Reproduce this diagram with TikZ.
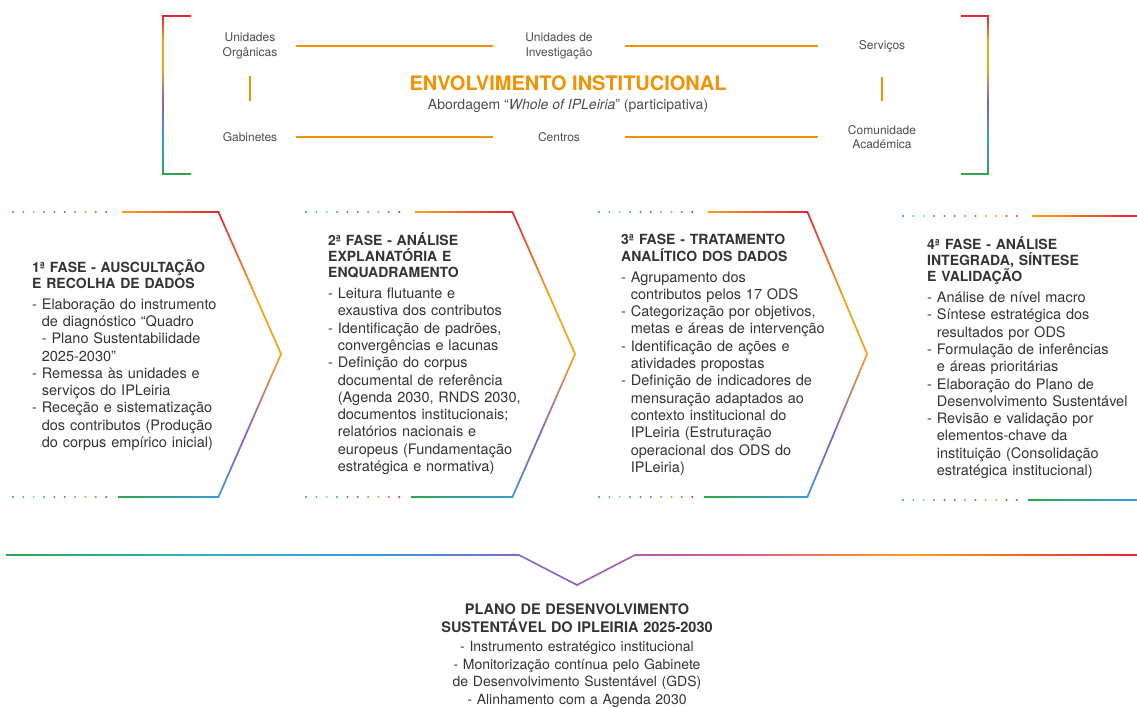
\documentclass[tikz,border=0pt]{standalone}
\usepackage{fontspec}
\setmainfont{TeX Gyre Heros}
\usetikzlibrary{positioning}

\definecolor{ipOrange}{HTML}{F39200}
\definecolor{sdgred}{HTML}{E5243B}
\definecolor{sdgorange}{HTML}{F7A21B}
\definecolor{sdgpurple}{HTML}{8E5CC0}
\definecolor{sdgblue}{HTML}{3A9BDC}
\definecolor{sdgteal}{HTML}{2FB3C0}
\definecolor{sdggreen}{HTML}{2BA84A}
\definecolor{sdgpink}{HTML}{D55A96}
\definecolor{labelgray}{HTML}{4D4D4D}
\definecolor{textgray}{HTML}{333333}

\pgfdeclareverticalshading{chevronfade}{100bp}{color(0bp)=(sdgblue); color(25bp)=(sdgblue); color(36bp)=(sdgpurple); color(50bp)=(sdgorange); color(60bp)=(sdgorange); color(75bp)=(sdgred); color(100bp)=(sdgred)}
\pgfdeclareverticalshading{bracketfade}{100bp}{color(0bp)=(sdggreen); color(25bp)=(sdggreen); color(37bp)=(sdgblue); color(48bp)=(sdgpurple); color(58bp)=(sdgorange); color(67bp)=(sdgorange); color(75bp)=(sdgred); color(100bp)=(sdgred)}
\pgfdeclarehorizontalshading{basefade}{100bp}{color(0bp)=(sdggreen); color(25bp)=(sdggreen); color(33bp)=(sdgteal); color(41bp)=(sdgblue); color(50bp)=(sdgpurple); color(57bp)=(sdgpink); color(65bp)=(sdgorange); color(75bp)=(sdgred); color(100bp)=(sdgred)}

\newcommand{\dotsten}{sdggreen,sdgteal,sdgblue!60,sdgblue,sdgpurple!70!sdgblue,sdgpurple,sdgpink,sdgorange,sdgorange!50!sdgred,sdgred}
\newcommand{\dotstwelve}{sdggreen,sdgteal,sdgblue!60,sdgblue,sdgpurple!60!sdgblue,sdgpurple,sdgpink,sdgred!60!sdgorange,sdgorange,sdgorange,sdgred!80!sdgorange,sdgred}

% list entry with hanging indent
\newcommand{\fitem}[1]{\par\setbox0=\hbox{- }\hangindent=\wd0 \hangafter=1 \noindent\box0 {\let\\\newline #1}\par}

\begin{document}
\begin{tikzpicture}[x=1pt, y=-1pt, node distance=91pt]

  % Define styles
  \tikzstyle{unit} = [inner sep=0pt, align=center, text=labelgray, font=\fontsize{12}{14.5}\selectfont]
  \tikzstyle{fase} = [anchor=west, inner sep=0pt, text width=235pt, align=left, text=textgray, font=\fontsize{14.5}{17.3}\selectfont]
  \tikzstyle{link} = [draw=ipOrange, line width=1.8pt]

  \useasboundingbox (0,0) rectangle (1137,708);

  % Place nodes
  \node [unit, minimum width=92pt] (uo) at (250,46) {Unidades\\Orgânicas};
  \node [unit, minimum width=132pt] (ui) at (559,46) {Unidades de\\Investigação};
  \node [unit, minimum width=128pt] (sv) at (882,46) {Serviços};
  \node [unit, minimum width=92pt, below of=uo] (gb) {Gabinetes};
  \node [unit, minimum width=132pt, below of=ui] (ct) {Centros};
  \node [unit, minimum width=128pt, below of=sv] (ca) {Comunidade\\Académica};
  \node [text=ipOrange, font=\fontsize{20}{24}\selectfont\bfseries] (env) at (568,83) {ENVOLVIMENTO INSTITUCIONAL};
  \node [below of=env, node distance=23pt, text=labelgray, font=\fontsize{14}{17}\selectfont] (abord) {Abordagem “\textit{Whole of IPLeiria}” (participativa)};

  \node [fase] (fase1) at (32,355) {{\fontsize{14}{16.3}\selectfont\bfseries 1ª FASE - AUSCULTAÇÃO\\E RECOLHA DE DADOS\par}\vspace{3.5pt}
    \fitem{Elaboração do instrumento\\de diagnóstico “Quadro\\- Plano Sustentabilidade\\2025-2030”}
    \fitem{Remessa às unidades e\\serviços do IPLeiria}
    \fitem{Receção e sistematização\\dos contributos (Produção\\do corpus empírico inicial)}};
  \node [fase] (fase2) at (328,353.5) {{\fontsize{14}{16.3}\selectfont\bfseries 2ª FASE - ANÁLISE\\EXPLANATÓRIA E\\ENQUADRAMENTO\par}\vspace{3.5pt}
    \fitem{Leitura flutuante e\\exaustiva dos contributos}
    \fitem{Identificação de padrões,\\convergências e lacunas}
    \fitem{Definição do corpus\\documental de referência\\(Agenda 2030, RNDS 2030,\\documentos institucionais;\\relatórios nacionais e\\europeus (Fundamentação\\estratégica e normativa)}};
  \node [fase] (fase3) at (621,355) {{\fontsize{14}{16.3}\selectfont\bfseries 3ª FASE - TRATAMENTO\\ANALÍTICO DOS DADOS\par}\vspace{3.5pt}
    \fitem{Agrupamento dos\\contributos pelos 17 ODS}
    \fitem{Categorização por objetivos,\\metas e áreas de intervenção}
    \fitem{Identificação de ações e\\atividades propostas}
    \fitem{Definição de indicadores de\\mensuração adaptados ao\\contexto institucional do\\IPLeiria (Estruturação\\operacional dos ODS do\\IPLeiria)}};
  \node [fase] (fase4) at (927,357.5) {{\fontsize{14}{16.3}\selectfont\bfseries 4ª FASE - ANÁLISE\\INTEGRADA, SÍNTESE\\E VALIDAÇÃO\par}\vspace{3.5pt}
    \fitem{Análise de nível macro}
    \fitem{Síntese estratégica dos\\resultados por ODS}
    \fitem{Formulação de inferências\\e áreas prioritárias}
    \fitem{Elaboração do Plano de\\Desenvolvimento Sustentável}
    \fitem{Revisão e validação por\\elementos-chave da\\instituição (Consolidação\\estratégica institucional)}};

  \node [inner sep=0pt, text width=420pt, align=center, text=textgray, font=\fontsize{14}{17.5}\selectfont] (plano) at (577,655.5) {{\fontsize{14.5}{17.5}\selectfont\bfseries PLANO DE DESENVOLVIMENTO\\SUSTENTÁVEL DO IPLEIRIA 2025-2030}\\[2pt]
    - Instrumento estratégico institucional\\- Monitorização contínua pelo Gabinete\\de Desenvolvimento Sustentável (GDS)\\- Alinhamento com a Agenda 2030};

  % Draw edges
  \path [link] (uo) -- (ui);
  \path [link] (ui) -- (sv);
  \path [link] (gb) -- (ct);
  \path [link] (ct) -- (ca);
  \path [link, shorten <=16.5pt, shorten >=31.5pt] (uo) -- (gb);
  \path [link, shorten <=24.5pt, shorten >=24pt] (sv) -- (ca);

  % Brackets round the top block
  \shade [shading=bracketfade] (191,15.1) -- (162.1,15.1) -- (162.1,174.9) -- (191,174.9) -- (191,173.1) -- (163.9,173.1) -- (163.9,16.9) -- (191,16.9) -- cycle;
  \shade [shading=bracketfade] (961,15.1) -- (988.9,15.1) -- (988.9,174.9) -- (961,174.9) -- (961,173.1) -- (987.1,173.1) -- (987.1,16.9) -- (961,16.9) -- cycle;

  % Chevrons of the phases
  \foreach \xl/\xc/\xp in {122/218/281, 415/512/575, 708/807/867} {
    \shade [left color=sdgorange, right color=sdgred] (\xl,211.1) rectangle (\xc,212.9);
    \shade [left color=sdggreen, right color=sdgblue] (\xl-4,496.1) rectangle (\xc,497.9);
    \shade [shading=chevronfade] (\xc-0.9,211.1) -- (\xp-0.9,354) -- (\xc-0.9,497.9) -- (\xc+1,497.9) -- (\xp+1,354) -- (\xc+1,211.1) -- cycle;
    \foreach \c [count=\i] in \dotsten {
      \fill [\c] (\xl-119.35+\i*10.35,212) circle (1.1);
      \fill [\c] (\xl-119.35+\i*10.35,497) circle (1.1);
    }
  }
  \shade [left color=sdgorange, right color=sdgred] (1032,215.1) rectangle (1137,216.9);
  \shade [left color=sdggreen, right color=sdgblue] (1028,499.1) rectangle (1137,500.9);
  \foreach \c [count=\i] in \dotstwelve {
    \fill [\c] (892.65+\i*10.35,216) circle (1.1);
    \fill [\c] (892.65+\i*10.35,500) circle (1.1);
  }

  % Base line pointing to the plan
  \shade [shading=basefade] (6,554.1) -- (519,554.1) -- (577,584.1) -- (635,554.1) -- (1137,554.1) -- (1137,555.9) -- (635,555.9) -- (577,585.9) -- (519,555.9) -- (6,555.9) -- cycle;

\end{tikzpicture}
\end{document}
